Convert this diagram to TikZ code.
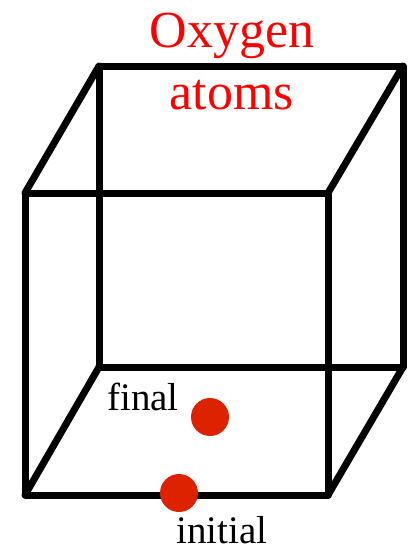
\documentclass[tikz,border=0pt]{standalone}
\usepackage{fontspec}
\setmainfont{Liberation Serif}
\definecolor{dotred}{HTML}{DD2200}
\begin{document}
\begin{tikzpicture}[x=1pt,y=-1pt,
  edge/.style={line width=7pt,line cap=round,line join=round,black},
  atom/.style={circle,fill=dotred,minimum size=38pt,inner sep=0pt},
  title/.style={text=red,font=\fontsize{52}{60}\selectfont,anchor=base,inner sep=0pt},
  lbl/.style={font=\fontsize{39}{45}\selectfont,anchor=base west,inner sep=0pt,text depth=0pt}]
\useasboundingbox (0,0) rectangle (412,550);
\coordinate (f1) at (25,193);
\coordinate (f2) at (328,193);
\coordinate (f3) at (328,495);
\coordinate (f4) at (25,495);
\coordinate (b1) at (99,66);
\coordinate (b2) at (403,66);
\coordinate (b3) at (403,367);
\coordinate (b4) at (99,367);
\draw[edge] (b1) -- (b2) -- (b3) -- (b4) -- cycle;
\draw[edge] (f1) -- (f2) -- (f3) -- (f4) -- cycle;
\draw[edge] (f1) -- (b1);
\draw[edge] (f2) -- (b2);
\draw[edge] (f3) -- (b3);
\draw[edge] (f4) -- (b4);
\node[atom] (final) at (210,417) {};
\node[atom] (initial) at (179,493) {};
\node[title] (t1) at (232,47) {Oxygen};
\node[title] (t2) at (232,109) {atoms};
\node[lbl] (lf) at (107,410) {final};
\node[lbl] (li) at (176,543) {initial};
\end{tikzpicture}
\end{document}
